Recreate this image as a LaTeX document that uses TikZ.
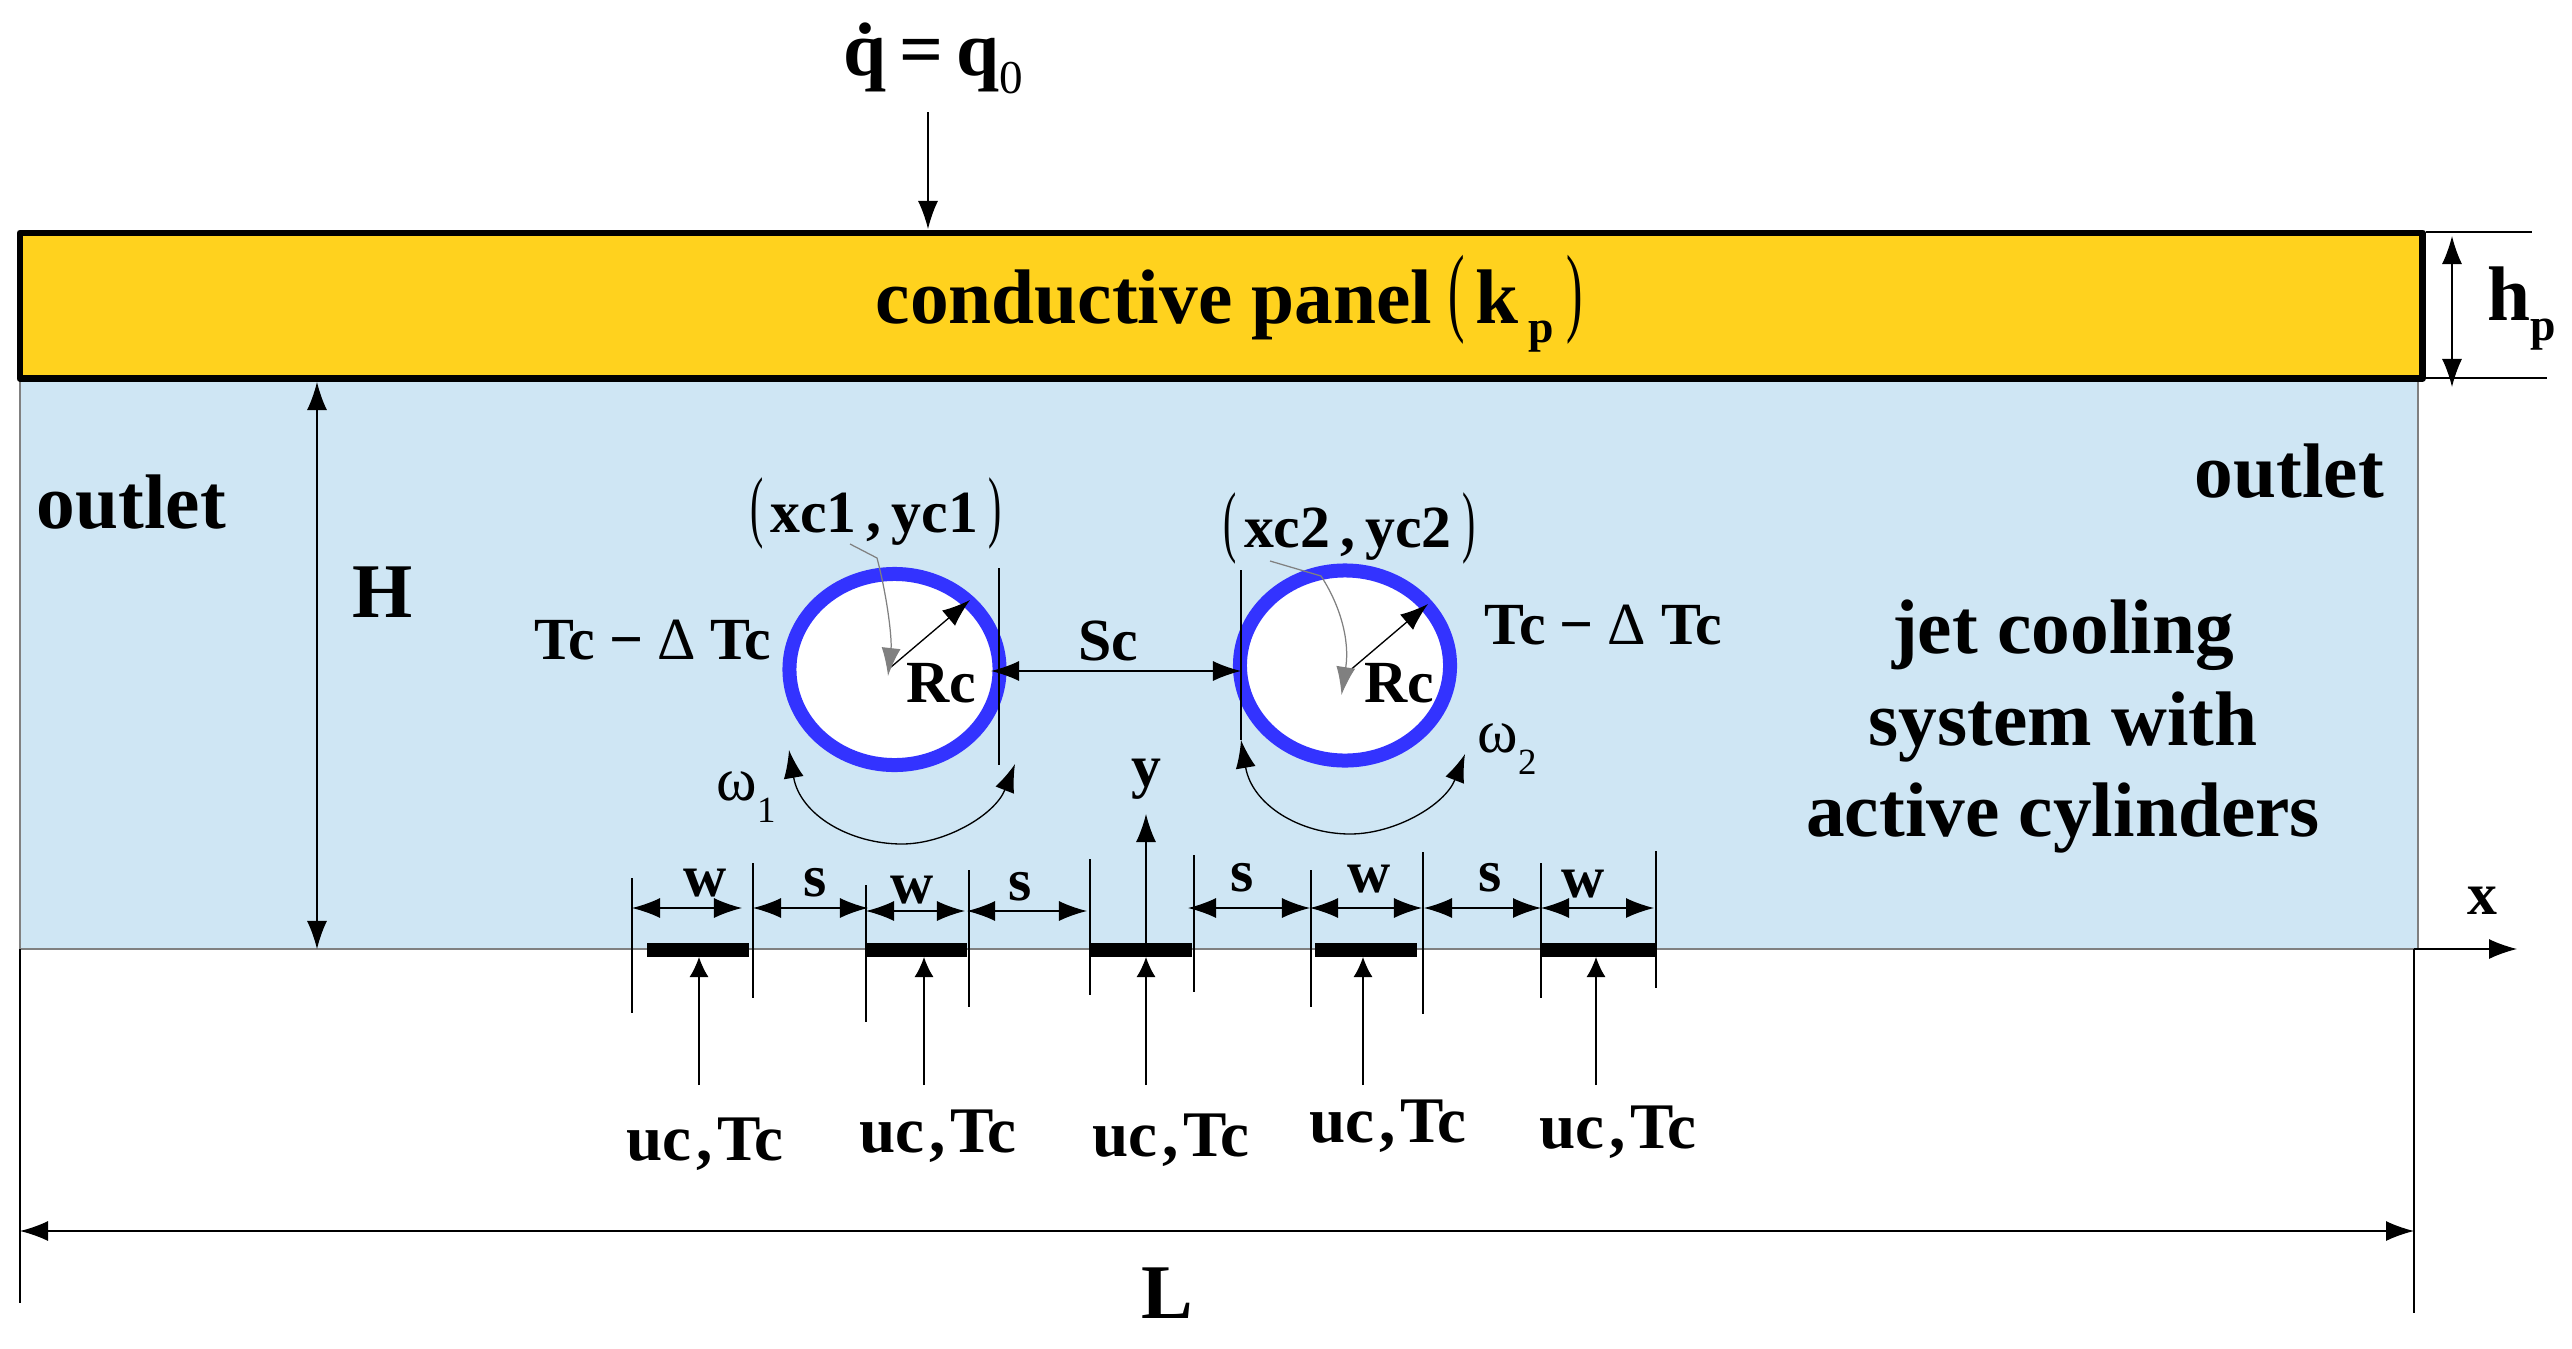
\documentclass[tikz,border=0pt]{standalone}
\usepackage{fontspec}
\setmainfont{Liberation Serif}
\usetikzlibrary{arrows.meta}
\definecolor{fluidblue}{RGB}{207,230,244}
\definecolor{panelyellow}{RGB}{255,210,30}
\definecolor{ringblue}{RGB}{51,51,255}
\newcommand{\thinparen}[2]{{\fontsize{#1}{#1}\selectfont\mdseries\scalebox{0.5}[1]{#2}}}
\newcommand{\tempdrop}{Tc\hspace{4pt}−\hspace{4pt}{\mdseries Δ}\hspace{4.2pt}Tc}
\newcommand{\inletlabel}{uc\hspace{1.4pt},\hspace{1.4pt}Tc}
\tikzset{
	dim/.style={line width=0.38pt,{Latex[length=0.28cm,width=0.2cm]}-{Latex[length=0.28cm,width=0.2cm]}},
	jet/.style={line width=0.35pt,-{Latex[length=0.2cm,width=0.19cm]}},
	pointer/.style={line width=0.38pt,-{Latex[length=0.28cm,width=0.2cm]}},
	greyarrow/.style={gray,line width=0.35pt,-{Latex[length=0.28cm,width=0.19cm]}},
	tick/.style={line width=0.35pt},
	cyl/.style={draw=ringblue,fill=white,line width=0.14cm},
	bar/.style={fill=black},
	big/.style={inner sep=0pt,anchor=base,font=\bfseries\fontsize{22}{22}\selectfont},
	small/.style={inner sep=0pt,anchor=base,font=\bfseries\fontsize{17}{17}\selectfont},
	inlet/.style={inner sep=0pt,anchor=base,font=\bfseries\fontsize{18.5}{18.5}\selectfont},
	omega/.style={inner sep=0pt,anchor=base west,font=\fontsize{17.5}{17.5}\selectfont}
}
\begin{document}
\begin{tikzpicture}[x=0.01cm,y=-0.01cm]
	\useasboundingbox (0,0) rectangle (2572,1348);
	% fluid and panel
	\draw[fill=fluidblue,draw=gray,line width=0.35pt] (20,378) rectangle (2418,949);
	\draw[fill=panelyellow,line width=0.067cm,line join=round] (20,233) rectangle (2422.5,378.5);
	\node[big,anchor=base west] (panel) at (875,323) {conductive panel\hspace{4.5pt}\thinparen{28}{(}\hspace{3pt}k\hspace{3pt}\raisebox{-0.25em}{\fontsize{13}{13}\selectfont p}\hspace{3.5pt}\thinparen{28}{)}};
	% heat flux
	\node[big,anchor=base west] (flux) at (843,75) {\.q\,=\,q\raisebox{-0.24em}{\fontsize{13.4}{13.4}\selectfont\mdseries 0}};
	\draw[pointer] (928,112)--(928,229);
	% panel thickness
	\draw[tick] (2426,232)--(2532,232);
	\draw[tick] (2426,378)--(2547,378);
	\draw[dim] (2452,236)--(2452,387);
	\node[big,anchor=base west] (hp) at (2487,320) {h\raisebox{-0.26em}{\fontsize{13}{13}\selectfont p}};
	% channel height
	\draw[dim] (317,382)--(317,949);
	\node[big] (channel) at (383,617) {H};
	\node[big,anchor=base west] (outleta) at (36,528) {outlet};
	\node[big,anchor=base west] (outletb) at (2194,497) {outlet};
	\node[big] (joba) at (2063,653) {jet cooling};
	\node[big] (jobb) at (2063,745) {system with};
	\node[big] (jobc) at (2063,836) {active cylinders};
	% cylinders
	\draw[cyl] (894.5,669.5) ellipse [x radius=1.05cm,y radius=0.955cm];
	\draw[cyl] (1345,665.5) ellipse [x radius=1.05cm,y radius=0.95cm];
	\draw[pointer] (891,667)--(970,600);
	\draw[pointer] (1348,672)--(1428,604);
	\draw[greyarrow] (850,544)--(877,558) .. controls (888,600) and (892,640) .. (888,676);
	\draw[greyarrow] (1270,561)--(1321,576) .. controls (1340,605) and (1350,640) .. (1341.5,695);
	\node[small] (rca) at (941,702) {Rc};
	\node[small] (rcb) at (1399,702) {Rc};
	\node[small,anchor=base east] (tempa) at (772,659) {\tempdrop};
	\node[small,anchor=base west] (tempb) at (1484,644) {\tempdrop};
	\node[small] (posa) at (876,532) {\thinparen{22.5}{(}\hspace{2pt}xc1\,,\,yc1\hspace{3pt}\thinparen{22.5}{)}};
	\node[small] (posb) at (1349.5,547) {\thinparen{22.5}{(}\hspace{2pt}xc2\,,\,yc2\hspace{3pt}\thinparen{22.5}{)}};
	% gap between the cylinders
	\draw[tick] (999,568)--(999,765);
	\draw[tick] (1241,570)--(1241,740);
	\draw[dim] (991,671)--(1241,671);
	\node[small] (gap) at (1108,660) {Sc};
	% rotation
	\draw[dim] (789,750) .. controls (800,815) and (850,844) .. (902,844) .. controls (945,844) and (995,815) .. (1015,764);
	\draw[dim] (1241,740) .. controls (1252,805) and (1300,834) .. (1350,834) .. controls (1395,834) and (1445,805) .. (1465,754);
	\node[omega] (rota) at (716,800) {ω\raisebox{-0.36em}{\fontsize{10.5}{10.5}\selectfont 1}};
	\node[omega] (rotb) at (1477,752) {ω\raisebox{-0.36em}{\fontsize{10.5}{10.5}\selectfont 2}};
	% jets
	\fill[bar] (647,943) rectangle (749,957);
	\fill[bar] (865,943) rectangle (967,957);
	\fill[bar] (1090,943) rectangle (1192,957);
	\fill[bar] (1315,943) rectangle (1417,957);
	\fill[bar] (1541,943) rectangle (1657,957);
	\draw[jet] (699,1085)--(699,957);
	\draw[jet] (924,1085)--(924,957);
	\draw[jet] (1146,1085)--(1146,957);
	\draw[jet] (1363,1085)--(1363,957);
	\draw[jet] (1596,1085)--(1596,957);
	\node[inlet] (uca) at (705,1160) {\inletlabel};
	\node[inlet] (ucb) at (938,1152) {\inletlabel};
	\node[inlet] (ucc) at (1171,1156) {\inletlabel};
	\node[inlet] (ucd) at (1388,1142) {\inletlabel};
	\node[inlet] (uce) at (1618,1148) {\inletlabel};
	% widths and spacings
	\draw[tick] (632,878)--(632,1013);
	\draw[tick] (753,863)--(753,998);
	\draw[tick] (866,885)--(866,1022);
	\draw[tick] (969,870)--(969,1007);
	\draw[tick] (1090,859)--(1090,995);
	\draw[tick] (1194,855)--(1194,992);
	\draw[tick] (1311,870)--(1311,1007);
	\draw[tick] (1423,852)--(1423,1014);
	\draw[tick] (1541,863)--(1541,998);
	\draw[tick] (1656,851)--(1656,988);
	\draw[dim] (632,908)--(742,908);
	\draw[dim] (753,908)--(868,908);
	\draw[dim] (866,911)--(965,911);
	\draw[dim] (967,911)--(1087,911);
	\draw[dim] (1188,908)--(1310,908);
	\draw[dim] (1310,908)--(1422,908);
	\draw[dim] (1424,908)--(1541,908);
	\draw[dim] (1541,908)--(1654,908);
	\node[small] (wa) at (705,896) {w};
	\node[small] (sa) at (815,896) {s};
	\node[small] (wb) at (912,903) {w};
	\node[small] (sb) at (1020,900) {s};
	\node[small] (sc) at (1242,891) {s};
	\node[small] (wc) at (1369,892) {w};
	\node[small] (sd) at (1490,891) {s};
	\node[small] (wd) at (1583,897) {w};
	% axes
	\draw[pointer] (1146,943)--(1146,814);
	\node[small] (axisy) at (1146,786) {y};
	\draw[pointer] (2414,949)--(2517,949);
	\node[small] (axisx) at (2482,914) {x};
	% length
	\draw[tick] (20,949)--(20,1303);
	\draw[tick] (2414,949)--(2414,1313);
	\draw[dim] (20,1231)--(2414,1231);
	\node[big] (length) at (1167.5,1318) {L};
\end{tikzpicture}
\end{document}
